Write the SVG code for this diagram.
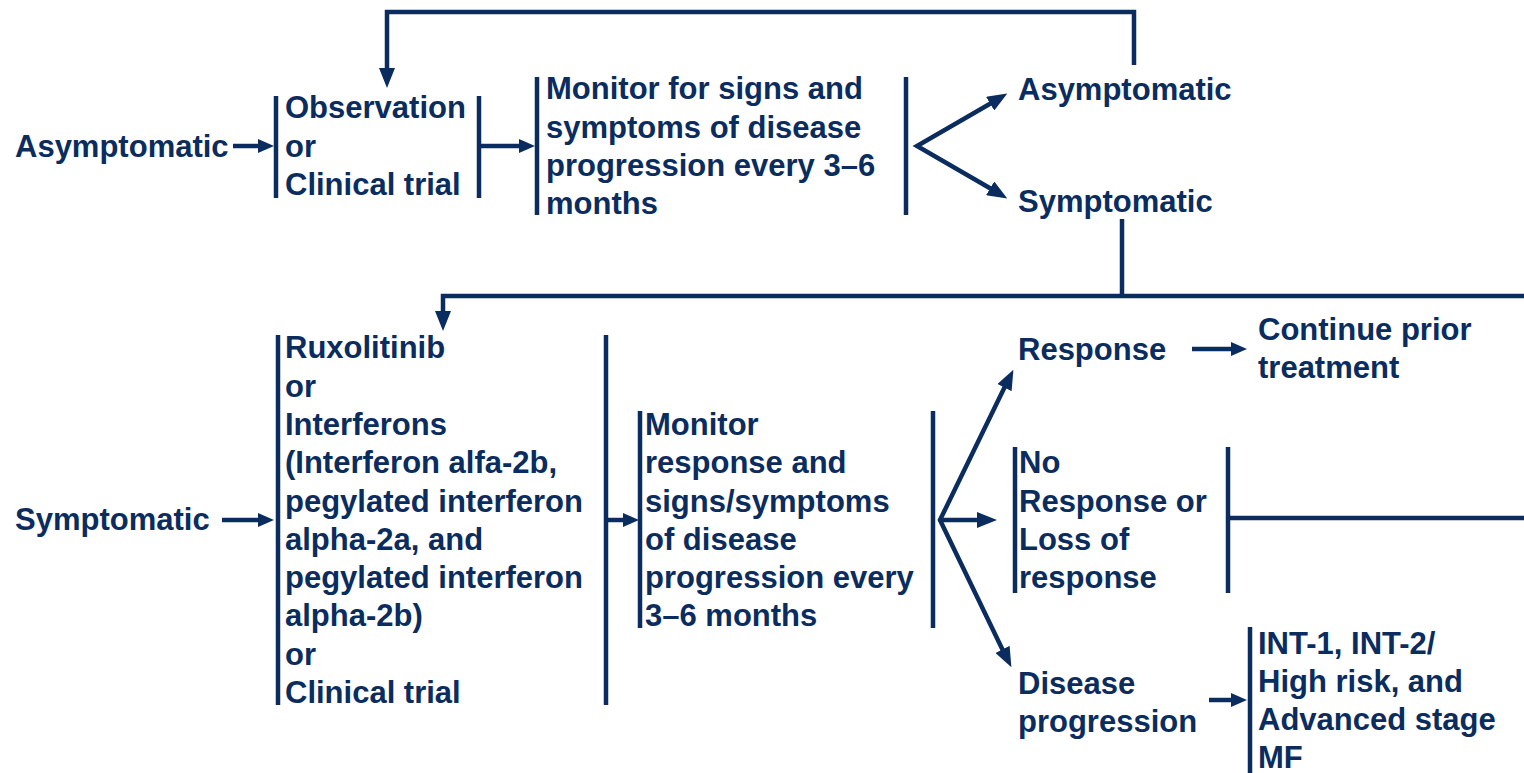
<svg xmlns="http://www.w3.org/2000/svg" width="1524" height="773" viewBox="0 0 1524 773">
<defs>
<style>
text{font-family:"Liberation Sans",Arial,sans-serif;font-weight:bold;font-size:31px;fill:#0a2c5e}
.ln{stroke:#0a2c5e;stroke-width:4.5;fill:none}
.br{stroke:#0a2c5e;stroke-width:4.5}
</style>
<marker id="ah" viewBox="0 0 16 14" refX="1" refY="7" markerWidth="16" markerHeight="14" markerUnits="userSpaceOnUse" orient="auto"><path d="M0,0 L16,7 L0,14 z" fill="#0a2c5e"/></marker>
<marker id="ahL" viewBox="0 0 20 16" refX="1" refY="8" markerWidth="20" markerHeight="16" markerUnits="userSpaceOnUse" orient="auto"><path d="M0,0 L20,8 L0,16 z" fill="#0a2c5e"/></marker>
</defs>
<rect width="1524" height="773" fill="#ffffff"/>

<g id="connectors">
<line class="ln" x1="233" y1="146" x2="259" y2="146" marker-end="url(#ah)"/>
<line class="ln" x1="479" y1="146" x2="520" y2="146" marker-end="url(#ah)"/>
<path class="ln" d="M1134,65 V12 H387 V69" marker-end="url(#ahL)"/>
<polyline class="ln" points="990.5,103.5 917,146 990.5,188.5"/>
<line class="ln" x1="990.5" y1="103.5" x2="991" y2="103.2" marker-end="url(#ahL)"/>
<line class="ln" x1="990.5" y1="188.5" x2="991" y2="188.8" marker-end="url(#ahL)"/>
<path class="ln" d="M1122,219 V296"/>
<path class="ln" d="M1524,296 H443 V312" marker-end="url(#ahL)"/>
<line class="ln" x1="222" y1="520" x2="259" y2="520" marker-end="url(#ah)"/>
<line class="ln" x1="606" y1="520" x2="624" y2="520" marker-end="url(#ah)"/>
<polyline class="ln" points="1004.7,387.1 940,520 1002.7,649.9"/>
<line class="ln" x1="1004.7" y1="387.1" x2="1004.9" y2="386.7" marker-end="url(#ahL)"/>
<line class="ln" x1="1002.7" y1="649.9" x2="1002.9" y2="650.3" marker-end="url(#ahL)"/>
<line class="ln" x1="940" y1="520" x2="978" y2="520" marker-end="url(#ahL)"/>
<line class="ln" x1="1192" y1="349" x2="1232" y2="349" marker-end="url(#ah)"/>
<line class="ln" x1="1228" y1="518" x2="1524" y2="518"/>
<line class="ln" x1="1209" y1="700" x2="1232" y2="700" marker-end="url(#ah)"/>
</g>

<g id="node-asymptomatic-start">
<text x="15" y="157">Asymptomatic</text>
</g>

<g id="node-observation">
<line class="br" x1="276" y1="96" x2="276" y2="198"/>
<line class="br" x1="479" y1="96" x2="479" y2="198"/>
<text x="285" y="118">Observation</text>
<text x="285" y="157">or</text>
<text x="285" y="195">Clinical trial</text>
</g>

<g id="node-monitor-1">
<line class="br" x1="537" y1="77" x2="537" y2="215"/>
<line class="br" x1="906" y1="77" x2="906" y2="215"/>
<text x="546" y="99">Monitor for signs and</text>
<text x="546" y="138">symptoms of disease</text>
<text x="546" y="176">progression every 3–6</text>
<text x="546" y="214">months</text>
</g>

<g id="node-asymptomatic-out">
<text x="1018" y="100">Asymptomatic</text>
</g>

<g id="node-symptomatic-out">
<text x="1018" y="212">Symptomatic</text>
</g>

<g id="node-symptomatic-start">
<text x="15" y="530">Symptomatic</text>
</g>

<g id="node-treatment">
<line class="br" x1="278" y1="335" x2="278" y2="705"/>
<line class="br" x1="606" y1="335" x2="606" y2="705"/>
<text x="285" y="358">Ruxolitinib</text>
<text x="285" y="397">or</text>
<text x="285" y="435">Interferons</text>
<text x="285" y="473">(Interferon alfa-2b,</text>
<text x="285" y="512">pegylated interferon</text>
<text x="285" y="550">alpha-2a, and</text>
<text x="285" y="588">pegylated interferon</text>
<text x="285" y="626">alpha-2b)</text>
<text x="285" y="665">or</text>
<text x="285" y="703">Clinical trial</text>
</g>

<g id="node-monitor-2">
<line class="br" x1="640" y1="411" x2="640" y2="628"/>
<line class="br" x1="933" y1="411" x2="933" y2="628"/>
<text x="645" y="435">Monitor</text>
<text x="645" y="473">response and</text>
<text x="645" y="512">signs/symptoms</text>
<text x="645" y="550">of disease</text>
<text x="645" y="588">progression every</text>
<text x="645" y="626">3–6 months</text>
</g>

<g id="node-response">
<text x="1018" y="360">Response</text>
</g>

<g id="node-continue">
<text x="1258" y="340">Continue prior</text>
<text x="1258" y="378">treatment</text>
</g>

<g id="node-no-response">
<line class="br" x1="1015" y1="447" x2="1015" y2="593"/>
<line class="br" x1="1228" y1="447" x2="1228" y2="593"/>
<text x="1019" y="473">No</text>
<text x="1019" y="512">Response or</text>
<text x="1019" y="550">Loss of</text>
<text x="1019" y="588">response</text>
</g>

<g id="node-disease-progression">
<text x="1018" y="694">Disease</text>
<text x="1018" y="732">progression</text>
</g>

<g id="node-int">
<line class="br" x1="1250" y1="627" x2="1250" y2="773"/>
<text x="1258" y="654">INT-1, INT-2/</text>
<text x="1258" y="692">High risk, and</text>
<text x="1258" y="730">Advanced stage</text>
<text x="1258" y="768">MF</text>
</g>
</svg>
